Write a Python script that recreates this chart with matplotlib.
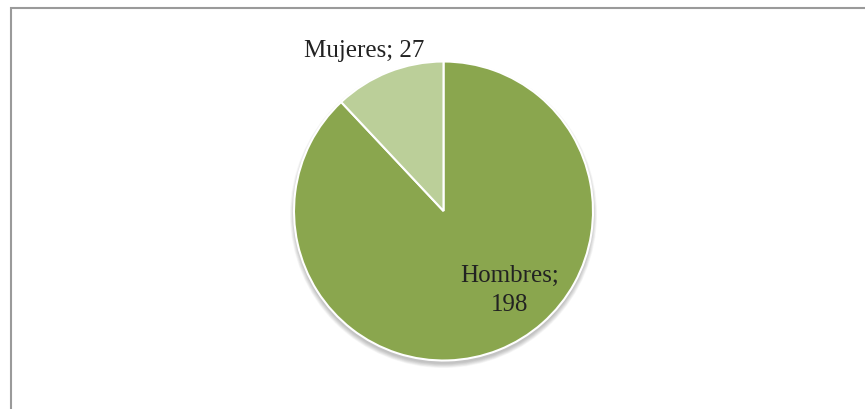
import matplotlib.pyplot as plt
from matplotlib.patches import Circle, Rectangle

categorias = ['Hombres', 'Mujeres']
valores = [198, 27]
colores = ['#8AA64E', '#BBCF99']

fig = plt.figure(figsize=(8.65, 4.09), dpi=100)
ax = fig.add_axes([0, 0, 1, 1])

# marco del gráfico
ax.add_patch(Rectangle((11, -20), 900, 421, fill=False, edgecolor='#9a9a9a', linewidth=1.5))

centro = (443.5, 198)
radio = 149.5

# sombra suave debajo del círculo
for i in range(8):
    ax.add_patch(Circle((centro[0], centro[1] - 3.5), radio + 4 - i * 0.6,
                        facecolor='#000000', alpha=0.03, edgecolor='none', zorder=1))

wedges, _ = ax.pie(valores, colors=colores, startangle=90, counterclock=False,
                   center=centro, radius=radio, frame=True,
                   wedgeprops={'edgecolor': 'white', 'linewidth': 1.5, 'zorder': 2})
ax.set_xlim(0, 865)
ax.set_ylim(0, 409)
ax.set_aspect('equal')
ax.axis('off')

fuente = {'family': 'Liberation Serif', 'size': 18, 'color': '#222222'}
ax.text(510, 127, f'{categorias[0]};', ha='center', va='baseline', zorder=3, **fuente)
ax.text(510, 98, f'{valores[0]}', ha='center', va='baseline', zorder=3, **fuente)
ax.text(364.5, 352, f'{categorias[1]}; {valores[1]}', ha='center', va='baseline', zorder=3, **fuente)

fig.savefig('out.png', dpi=100)
